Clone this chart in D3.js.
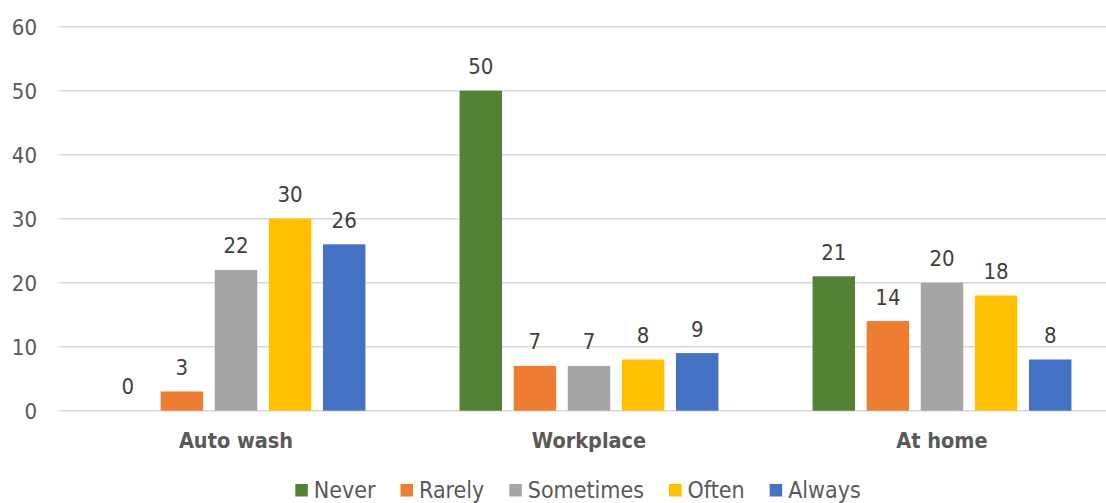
<!DOCTYPE html>
<html><head><meta charset="utf-8">
<script src="https://cdn.jsdelivr.net/npm/d3@7"></script>
<style>body{margin:0;background:#fff;} svg{display:block;} text{font-stretch:condensed;}</style>
</head><body>
<svg id="c" width="1106" height="503"></svg>
<script>
const categories = ["Auto wash", "Workplace", "At home"];
const seriesNames = ["Never", "Rarely", "Sometimes", "Often", "Always"];
const never = [0, 50, 21];
const rarely = [3, 7, 14];
const sometimes = [22, 7, 20];
const often = [30, 8, 18];
const always = [26, 9, 8];
const yTicks = [0, 10, 20, 30, 40, 50, 60];
const colors = ["#548235", "#ED7D31", "#A5A5A5", "#FFC000", "#4472C4"];

const seriesValues = [never, rarely, sometimes, often, always];
const font = "'DejaVu Sans Condensed', 'DejaVu Sans', sans-serif";
const textColor = "#595959";
const svg = d3.select("#c");

const y = d3.scaleLinear().domain([0, 60]).range([410.7, 26.7]);
const x0 = d3.scaleBand().domain(categories).range([59.5, 1118.5]).padding(0);
const x1 = d3.scaleBand().domain(seriesNames).range([0, x0.bandwidth()])
  .paddingInner(0.215).paddingOuter(0.87);

// gridlines
svg.append("g").selectAll("line").data(yTicks).join("line")
  .attr("x1", 59).attr("x2", 1106)
  .attr("y1", d => y(d)).attr("y2", d => y(d))
  .attr("stroke", "#d9d9d9").attr("stroke-width", 1.5);

// y axis labels
const yAxis = d3.axisLeft(y).tickValues(yTicks).tickSize(0).tickPadding(0);
const ya = svg.append("g").attr("transform", "translate(37,0)").call(yAxis);
ya.select(".domain").remove();
ya.selectAll("text").attr("font-family", font).attr("font-size", 22)
  .attr("fill", textColor).attr("dy", "0.36em");

// bars
const groups = svg.append("g").selectAll("g").data(categories).join("g")
  .attr("transform", d => `translate(${x0(d)},0)`);
groups.each(function(cat, ci) {
  const g = d3.select(this);
  seriesNames.forEach((s, si) => {
    const v = seriesValues[si][ci];
    g.append("rect")
      .attr("x", x1(s)).attr("width", x1.bandwidth())
      .attr("y", y(v)).attr("height", y(0) - y(v))
      .attr("fill", colors[si]);
    g.append("text")
      .attr("x", x1(s) + x1.bandwidth() / 2)
      .attr("y", y(v) - 16.5)
      .attr("text-anchor", "middle")
      .attr("font-family", font).attr("font-size", 22)
      .attr("fill", "#404040").text(v);
  });
});

// category labels
const xAxis = d3.axisBottom(x0).tickSize(0).tickPadding(0);
const xa = svg.append("g").attr("transform", "translate(0,448)").call(xAxis);
xa.select(".domain").remove();
xa.selectAll("text").attr("font-family", font).attr("font-size", 21.5)
  .attr("font-weight", "bold").attr("fill", textColor).attr("dy", 0);

// legend
const legend = svg.append("g");
let lx = 0;
seriesNames.forEach((s, i) => {
  const it = legend.append("g").attr("transform", `translate(${lx},0)`);
  it.append("rect").attr("x", 0).attr("y", 484).attr("width", 12.5).attr("height", 12.5).attr("fill", colors[i]);
  const t = it.append("text").attr("x", 18.5).attr("y", 497.5)
    .attr("font-family", font).attr("font-size", 23).attr("fill", textColor).text(s);
  const w = t.node().getComputedTextLength();
  lx += 18.5 + w + 25;
});
const totalW = lx - 25;
legend.attr("transform", `translate(${578 - totalW / 2},0)`);
</script>
</body></html>
